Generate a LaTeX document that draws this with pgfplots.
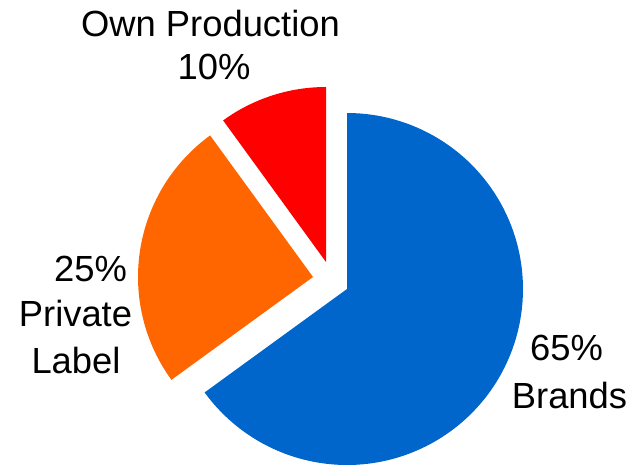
\documentclass[border=0pt]{standalone}
\usepackage{fontspec}
\setmainfont{Liberation Sans}
\usepackage{pgfplots}
\pgfplotsset{compat=1.18}
\definecolor{cBlue}{RGB}{0,102,204}
\definecolor{cOrange}{RGB}{255,102,0}
\definecolor{cRed}{RGB}{255,0,0}
% shares (percent)
\def\pBrands{65}
\def\pPrivate{25}
\def\pOwn{10}
\begin{document}
\begin{tikzpicture}
\begin{axis}[
  width=641bp, height=467bp, scale only axis,
  xmin=0, xmax=641, ymin=0, ymax=467,
  hide axis, clip=false,
]
\path (axis cs:0,0) rectangle (axis cs:641,467);
% Brands 65%: from 90 deg clockwise
\addplot[fill=cBlue, draw=none, domain={90-3.6*\pBrands}:90, samples=120]
  ({347+176*cos(x)},{178+176*sin(x)}) -- (axis cs:347,178) -- cycle;
% Private Label 25% (exploded)
\addplot[fill=cOrange, draw=none, domain={90+3.6*\pOwn}:{90+3.6*(\pOwn+\pPrivate)}, samples=60]
  ({313+175*cos(x)},{190+175*sin(x)}) -- (axis cs:313,190) -- cycle;
% Own Production 10% (exploded)
\addplot[fill=cRed, draw=none, domain=90:{90+3.6*\pOwn}, samples=30]
  ({326+175*cos(x)},{205+175*sin(x)}) -- (axis cs:326,205) -- cycle;
\begin{scope}[every node/.style={anchor=base, inner sep=0pt, font=\fontsize{36.5}{44}\selectfont}]
\node at (axis cs:210.5,430) {Own Production};
\node at (axis cs:214,387) {10\%};
\node at (axis cs:90.5,185) {25\%};
\node at (axis cs:75.5,140) {Private};
\node at (axis cs:76,93) {Label};
\node at (axis cs:566.5,106) {65\%};
\node at (axis cs:569.5,58) {Brands};
\end{scope}
\end{axis}
\end{tikzpicture}
\end{document}
